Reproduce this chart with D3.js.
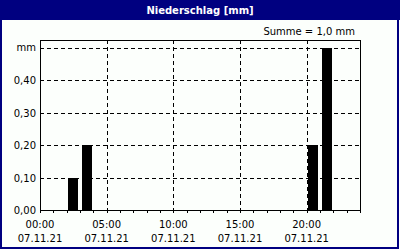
<!DOCTYPE html>
<html>
<head>
<meta charset="utf-8">
<script src="https://cdn.jsdelivr.net/npm/d3@7"></script>
<style>
  body { margin: 0; background: #fff; }
  text { font-family: Tahoma, "DejaVu Sans", sans-serif; font-size: 10px; fill: #000; }
</style>
</head>
<body>
<div id="chart"></div>
<script>
// Niederschlag stuendlich, 07.11.21
var hours  = [2, 3, 20, 21];
var values = [0.1, 0.2, 0.2, 0.5];
var yTicks = [0, 0.1, 0.2, 0.3, 0.4];
var xTicks = [0, 5, 10, 15, 20];
var xLabels = ['00:00', '05:00', '10:00', '15:00', '20:00'];
var dateLabel = '07.11.21';
var title = 'Niederschlag [mm]';
var summe = 'Summe = 1,0 mm';

var width = 400, height = 250;
var plot = {left: 40, top: 40, right: 360, bottom: 210};

var svg = d3.select('#chart').append('svg')
  .attr('width', width)
  .attr('height', height);

// frame + title bar
svg.append('rect').attr('x', 1).attr('y', 1).attr('width', width - 3).attr('height', height - 3)
  .attr('fill', '#fcfffc').attr('stroke', '#000080').attr('stroke-width', 2);
svg.append('rect').attr('x', 0).attr('y', 0).attr('width', width).attr('height', 20)
  .attr('fill', '#000080');
svg.append('text').attr('x', width / 2).attr('y', 14).attr('text-anchor', 'middle')
  .style('font-weight', 'bold').style('fill', '#fff').text(title);
svg.append('text').attr('x', 355).attr('y', 35).attr('text-anchor', 'end').text(summe);

var x = d3.scaleLinear().domain([0, 24]).range([plot.left, plot.right]);
var y = d3.scaleLinear().domain([0, 0.525]).range([plot.bottom, plot.top]);

// grid
var grid = svg.append('g').attr('stroke', '#000').attr('stroke-dasharray', '4,3').attr('shape-rendering', 'crispEdges');
grid.selectAll('line.gy').data(yTicks.slice(1).concat([0.5])).enter().append('line')
  .attr('x1', plot.left).attr('x2', plot.right)
  .attr('y1', function(d) { return Math.round(y(d)) + 0.5; })
  .attr('y2', function(d) { return Math.round(y(d)) + 0.5; });
grid.selectAll('line.gx').data(xTicks.slice(1)).enter().append('line')
  .attr('y1', plot.top).attr('y2', plot.bottom)
  .attr('x1', function(d) { return Math.round(x(d)) + 0.5; })
  .attr('x2', function(d) { return Math.round(x(d)) + 0.5; });

// bars
var slot = x(1) - x(0);
svg.selectAll('rect.bar').data(values).enter().append('rect')
  .attr('class', 'bar')
  .attr('x', function(d, i) { return Math.round(x(hours[i]) + 1.5); })
  .attr('width', Math.round(slot - 3.5))
  .attr('y', function(d) { return Math.round(y(d)); })
  .attr('height', function(d) { return plot.bottom - Math.round(y(d)); })
  .attr('fill', '#000');

// plot border
svg.append('rect').attr('x', plot.left + 0.5).attr('y', plot.top + 0.5)
  .attr('width', plot.right - plot.left).attr('height', plot.bottom - plot.top)
  .attr('fill', 'none').attr('stroke', '#000').attr('shape-rendering', 'crispEdges');

// hourly ticks below x axis
svg.selectAll('line.xt').data(d3.range(0, 25)).enter().append('line')
  .attr('stroke', '#000').attr('shape-rendering', 'crispEdges')
  .attr('x1', function(d) { return Math.round(x(d)) + 0.5; })
  .attr('x2', function(d) { return Math.round(x(d)) + 0.5; })
  .attr('y1', plot.bottom).attr('y2', plot.bottom + 3);

// y labels
var fmt = function(d) { return d.toFixed(2).replace('.', ','); };
svg.selectAll('text.yl').data(yTicks).enter().append('text')
  .attr('x', 36).attr('y', function(d) { return y(d) + 4; })
  .attr('text-anchor', 'end').text(fmt);
svg.append('text').attr('x', 36).attr('y', y(0.5) + 3).attr('text-anchor', 'end').text('mm');

// x labels
svg.selectAll('text.xl').data(xTicks).enter().append('text')
  .attr('x', function(d) { return x(d); }).attr('y', 228)
  .attr('text-anchor', 'middle').text(function(d, i) { return xLabels[i]; });
svg.selectAll('text.xd').data(xTicks).enter().append('text')
  .attr('x', function(d) { return x(d); }).attr('y', 242)
  .attr('text-anchor', 'middle').text(dateLabel);
</script>
</body>
</html>
